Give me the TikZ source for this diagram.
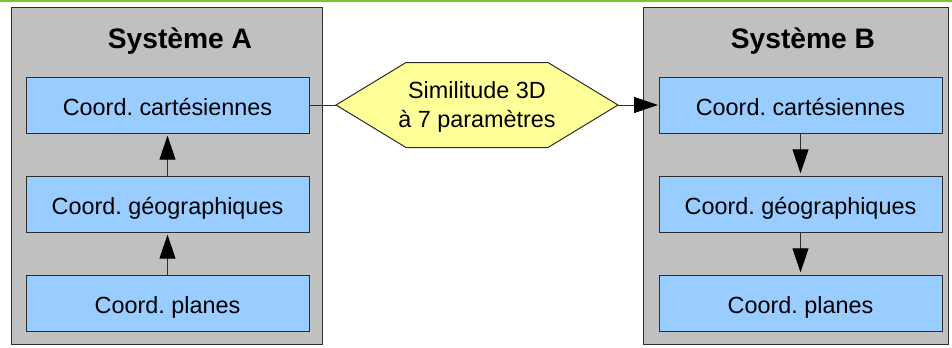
\documentclass[tikz,border=0pt]{standalone}
\usepackage{fontspec}
\setmainfont{Liberation Sans}
\frenchspacing
\usetikzlibrary{arrows.meta,positioning}
\definecolor{Gris}{RGB}{192,192,192}
\definecolor{Bleu}{RGB}{153,204,255}
\definecolor{Jaune}{RGB}{255,255,153}
\definecolor{Vert}{RGB}{125,195,45}
\definecolor{Trait}{RGB}{45,45,45}

\begin{document}
\begin{tikzpicture}[x=0.75pt,y=-0.75pt,
    panneau/.style={draw=Trait,fill=Gris,line width=0.75pt,minimum height=252.75pt,inner sep=0pt,outer sep=0pt},
    coord/.style={draw=Trait,fill=Bleu,line width=0.75pt,minimum width=212.25pt,minimum height=42pt,
      inner sep=0pt,outer sep=0pt,font=\fontsize{17.55}{21}\selectfont,text height=18.5pt,text depth=3.5pt},
    titre/.style={anchor=base,font=\fontsize{21.15}{25}\selectfont\bfseries},
    fleche/.style={draw=Trait,line width=0.75pt,shorten >=2pt,-{Triangle[length=18pt,width=12pt,color=black]}}]
  \useasboundingbox (0,0) rectangle (952,347);
  \draw[Vert,line width=1.5pt] (0,1) -- (952,1);
  % systeme A
  \node[panneau,minimum width=233.25pt] (sysA) at (166.5,175.5) {};
  \node[titre] (titreA) at (180,48) {Système A};
  \node[coord] (cartA) at (167.5,105) {Coord. cartésiennes};
  \node[coord,below=32.25pt of cartA] (geoA) {Coord. géographiques};
  \node[coord,below=32.25pt of geoA] (planA) {Coord. planes};
  % systeme B
  \node[panneau,minimum width=228.75pt] (sysB) at (795.5,175.5) {};
  \node[titre] (titreB) at (803,48) {Système B};
  \node[coord] (cartB) at (800.5,105) {Coord. cartésiennes};
  \node[coord,below=32.25pt of cartB] (geoB) {Coord. géographiques};
  \node[coord,below=32.25pt of geoB] (planB) {Coord. planes};
  % similitude
  \draw[Trait,fill=Jaune,line width=0.75pt] (336,105) -- (406,62.5) -- (548,62.5) -- (618,105)
    -- (548,147.5) -- (406,147.5) -- cycle;
  \node[align=center,minimum width=211.5pt,minimum height=63.75pt,inner sep=0pt,outer sep=0pt,text depth=0pt,
    font=\fontsize{17.55}{21.75}\selectfont] (sim) at (477,105) {Similitude 3D\\à 7 paramètres};
  % fleches
  \draw[Trait,line width=0.75pt] (cartA.east) -- (sim.west);
  \draw[fleche,shorten >=0.75pt] (sim.east) -- (cartB.west);
  \draw[fleche] (geoA) -- (cartA);
  \draw[fleche] (planA) -- (geoA);
  \draw[fleche] (cartB) -- (geoB);
  \draw[fleche] (geoB) -- (planB);
\end{tikzpicture}
\end{document}
